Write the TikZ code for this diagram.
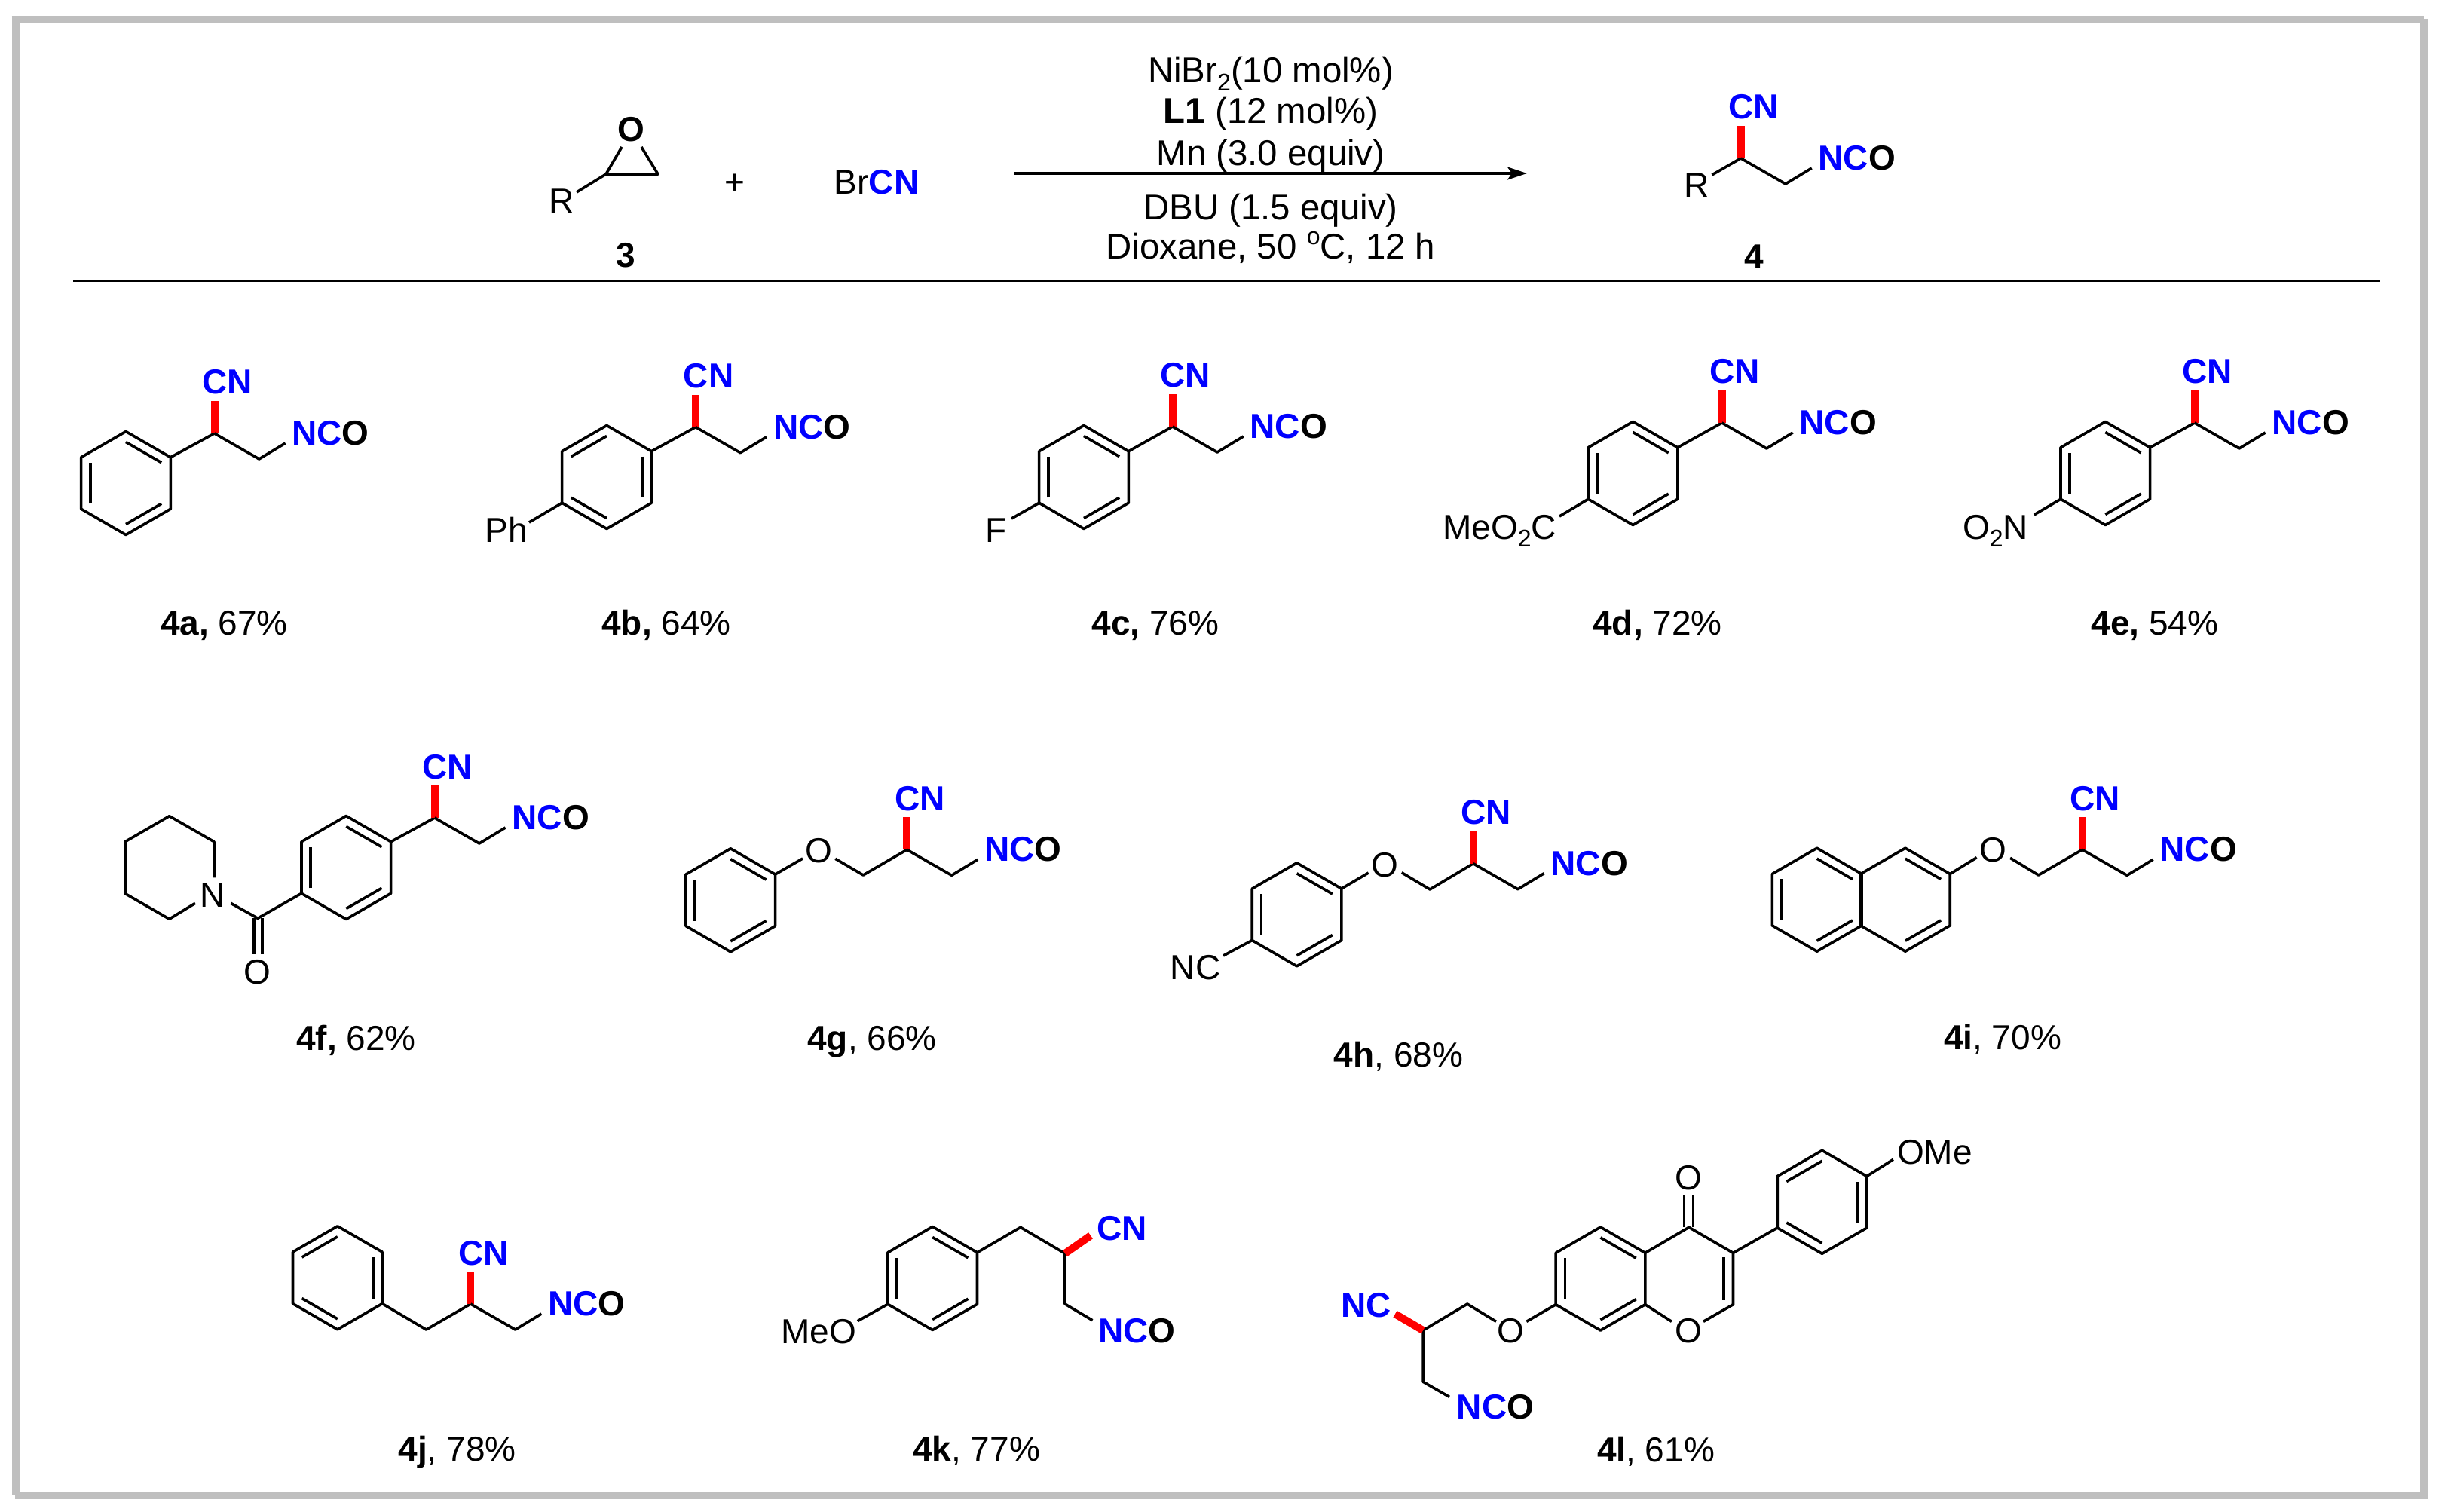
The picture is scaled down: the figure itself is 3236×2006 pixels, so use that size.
\documentclass[tikz,border=0pt]{standalone}
\usepackage{fontspec}
\setmainfont{Liberation Sans}
\usetikzlibrary{arrows.meta}
\definecolor{framegray}{HTML}{BFBFBF}
\definecolor{cnblue}{HTML}{0000FF}
\definecolor{bondred}{HTML}{FF0000}
\newcommand\chemsub[1]{\raisebox{-0.22em}{\fontsize{16}{16}\selectfont #1}}
\newcommand\chemsup[1]{\raisebox{0.42em}{\fontsize{16}{16}\selectfont #1}}
\newcommand\blu[1]{\textcolor{cnblue}{\textbf{#1}}}
\tikzset{
  x=0.5pt,y=-0.5pt,
  bond/.style={line width=1.8pt,line join=round,black},
  redbond/.style={line width=5pt,bondred},
  framebar/.style={framegray,line width=5pt},
  lab/.style={inner sep=0pt,outer sep=0pt,anchor=base,font=\fontsize{23}{27}\selectfont},
  labw/.style={lab,anchor=base west},
  cond/.style={lab,font=\fontsize{23.7}{27}\selectfont},
}
% hexagon centred on (#1,#2); #3 = start angles (on the page, clockwise) of the inner lines
\newcommand\Ring[3]{%
  \begin{scope}[shift={(#1,#2)}]
    \draw[bond] (-90:68.5)--(-30:68.5)--(30:68.5)--(90:68.5)--(150:68.5)--(210:68.5)--cycle;
    \foreach \a in {#3} \draw[bond] (\a:54.5)--(\a+60:54.5);
  \end{scope}}
% CH(CN)CH2NCO fragment from the stereo carbon (#2,#3)
\newcommand\Chain[3]{%
  \begin{scope}[shift={(#2,#3)}]
    \draw[redbond] (0,0)--(0,-43);
    \node[lab] (#1-cn) at (17,-52) {\blu{CN}};
    \draw[bond] (0,0)--(59.3,34)--(94,13);
    \node[labw] (#1-nco) at (103,15.5) {\blu{NC}\textbf{O}};
  \end{scope}}
\begin{document}
\begin{tikzpicture}
\useasboundingbox (0,0) rectangle (3236,2006);
\draw[framebar] (15.5,26)--(3216,26);
\draw[framebar] (3216,25)--(3216,1988.7);
\draw[framebar] (20.5,21)--(20.5,1982.7);
\draw[framebar] (20,1983.7)--(3221,1983.7);
\draw[line width=1.7pt] (97,372.5)--(3158,372.5);

% --- reaction ---
\draw[bond] (825,195)--(804,231)--(873,231)--(851,195);
\draw[bond] (804,231)--(765,255);
\node[lab] (oxO) at (837,188) {\textbf{O}};
\node[lab] (oxR) at (745,283) {R};
\node[lab] (n3) at (830,355) {\textbf{3}};
\node[lab] (plus) at (975,258) {+};
\node[lab] (brcn) at (1163,258) {Br\blu{CN}};
\draw[line width=1.65pt,-{Stealth[length=13pt,width=8.5pt,inset=3pt]}] (1346,230)--(2026,230);
\node[cond] (c1) at (1686,110) {NiBr\chemsub{2}(10 mol\%)};
\node[cond] (c2) at (1686,164) {\textbf{L1} (12 mol\%)};
\node[cond] (c3) at (1686,220) {Mn (3.0 equiv)};
\node[cond] (c4) at (1686,292) {DBU (1.5 equiv)};
\node[cond] (c5) at (1686,344) {Dioxane, 50 \chemsup{o}C, 12 h};
\Chain{p4}{2309.7}{210}
\draw[bond] (2309.7,210)--(2271.4,232);
\node[lab] (pR) at (2251.5,262) {R};
\node[lab] (n4) at (2327,356.5) {\textbf{4}};

% --- 4a ---
\Ring{167}{641}{-90,30,150}
\draw[bond] (226.3,606.75)--(284.5,575);
\Chain{a}{284.5}{575}
\node[lab] (la) at (297.5,842) {\textbf{4a,} 67\%};
% --- 4b ---
\Ring{805}{633}{210,-30,90}
\draw[bond] (864.3,598.75)--(923,566.7);
\Chain{b}{923}{566.7}
\draw[bond] (745.7,667.25)--(702,693);
\node[lab] (bPh) at (672,719) {Ph};
\node[lab] (lb) at (884,842) {\textbf{4b,} 64\%};
% --- 4c ---
\Ring{1438}{633}{-90,30,150}
\draw[bond] (1497.3,598.75)--(1555.7,566);
\Chain{c}{1555.7}{566}
\draw[bond] (1378.7,667.25)--(1342,688);
\node[lab] (cF) at (1322,719) {F};
\node[lab] (lc) at (1533,842) {\textbf{4c,} 76\%};
% --- 4d ---
\Ring{2166.5}{628}{-90,30,150}
\draw[bond] (2225.8,593.75)--(2284.6,561);
\Chain{d}{2284.6}{561}
\draw[bond] (2107.2,662.25)--(2069,685);
\node[lab] (dE) at (1989.5,715) {MeO\chemsub{2}C};
\node[lab] (ld) at (2199,842) {\textbf{4d,} 72\%};
% --- 4e ---
\Ring{2793.3}{628}{-90,30,150}
\draw[bond] (2852.6,593.75)--(2911.6,561);
\Chain{e}{2911.6}{561}
\draw[bond] (2734,662.25)--(2698.8,683);
\node[lab] (eN) at (2647.4,715) {O\chemsub{2}N};
\node[lab] (le) at (2859,842) {\textbf{4e,} 54\%};

% --- 4f ---
\Ring{459.3}{1151}{-90,30,150}
\draw[bond] (518.6,1116.75)--(576.6,1085);
\Chain{f}{576.6}{1085}
\draw[bond] (400,1185.25)--(342,1218.3)--(306.2,1198.3);
\draw[bond] (336.8,1218.3)--(336.8,1266);
\draw[bond] (347.7,1218.3)--(347.7,1266);
\node[lab] (fO) at (341.3,1305) {O};
\node[lab] (fN) at (282.6,1203) {N};
\draw[bond] (284,1164.3)--(284,1116.7)--(224.7,1082.7)--(166,1116.7)--(166,1185.5)--(224.7,1219.3)--(259,1198.3);
\node[lab] (lf) at (472.6,1393) {\textbf{4f,} 62\%};
% --- 4g ---
\Ring{969.3}{1194.3}{-90,30,150}
\draw[bond] (1028.6,1160)--(1065,1139);
\node[lab] (gO) at (1086,1144.3) {O};
\draw[bond] (1108.3,1139.3)--(1145.3,1161)--(1203.3,1127.3);
\Chain{g}{1203.3}{1127.3}
\node[lab] (lg) at (1157,1393) {\textbf{4g}, 66\%};
% --- 4h ---
\Ring{1720.6}{1213.3}{-90,30,150}
\draw[bond] (1779.9,1179)--(1815.6,1158);
\node[lab] (hO) at (1837.3,1163.3) {O};
\draw[bond] (1859.7,1157.7)--(1897.2,1180)--(1954.6,1145.7);
\Chain{h}{1954.6}{1145.7}
\draw[bond] (1661.3,1247.5)--(1623,1268);
\node[lab] (hNC) at (1586,1299) {NC};
\node[lab] (lh) at (1855.6,1415) {\textbf{4h}, 68\%};
% --- 4i ---
\Ring{2410.7}{1193.7}{-90,30,150}
\Ring{2527.9}{1193.7}{-90,30}
\draw[bond] (2587.2,1159.5)--(2622.7,1137.7);
\node[lab] (iO) at (2644,1143.3) {O};
\draw[bond] (2667,1138.3)--(2704.6,1161)--(2762.7,1127.3);
\Chain{i}{2762.7}{1127.3}
\node[lab] (li) at (2657,1392) {\textbf{4i}, 70\%};

% --- 4j ---
\Ring{447.8}{1695.3}{210,-30,90}
\draw[bond] (507.1,1729.5)--(565.5,1764)--(624.4,1730);
\Chain{j}{624.4}{1730}
\node[lab] (lj) at (606.6,1938) {\textbf{4j}, 78\%};
% --- 4k ---
\Ring{1237.2}{1696}{-90,30,150}
\draw[bond] (1296.5,1661.75)--(1354,1628.3)--(1413,1663)--(1413,1730)--(1449.5,1751.7);
\draw[redbond] (1413,1663)--(1447,1639.3);
\node[lab] (kCN) at (1488.5,1645) {\blu{CN}};
\node[labw] (kNCO) at (1457,1781) {\blu{NC}\textbf{O}};
\draw[bond] (1177.9,1730.25)--(1137.7,1752.7);
\node[lab] (kO) at (1086,1782.3) {MeO};
\node[lab] (lk) at (1295.6,1938) {\textbf{4k}, 77\%};
% --- 4l ---
\Ring{2123.5}{1696.5}{-90,30,150}
\draw[bond] (2182.8,1730.75)--(2217.9,1753.3);
\node[lab] (lO1) at (2240.8,1781.7) {O};
\draw[bond] (2260,1753.3)--(2299.5,1730.7)--(2299.5,1662.3)--(2240.8,1628.3)--(2182.8,1662.25);
\draw[bond] (2286.7,1668)--(2286.7,1725);
\draw[bond] (2234.4,1585)--(2234.4,1628.3);
\draw[bond] (2246.6,1585)--(2246.6,1628.3);
\node[lab] (lO2) at (2240.2,1578.3) {O};
\draw[bond] (2299.5,1662.3)--(2358.2,1629);
\Ring{2417.5}{1594.8}{210,-30,90}
\draw[bond] (2476.8,1560.5)--(2511.9,1538.3);
\node[lab] (lOMe) at (2567,1544.3) {OMe};
\draw[bond] (2064.2,1730.75)--(2025.3,1753.3);
\node[lab] (lO3) at (2004.2,1781.7) {O};
\draw[bond] (1985,1753.3)--(1946.8,1730)--(1888.1,1765)--(1888.1,1833.3)--(1923,1853.3);
\draw[redbond] (1888.1,1765)--(1851,1743.3);
\node[lab] (lNC) at (1812.3,1747.3) {\blu{NC}};
\node[labw] (lNCO) at (1932.8,1882.7) {\blu{NC}\textbf{O}};
\node[lab] (ll) at (2197,1939) {\textbf{4l}, 61\%};
\end{tikzpicture}
\end{document}
